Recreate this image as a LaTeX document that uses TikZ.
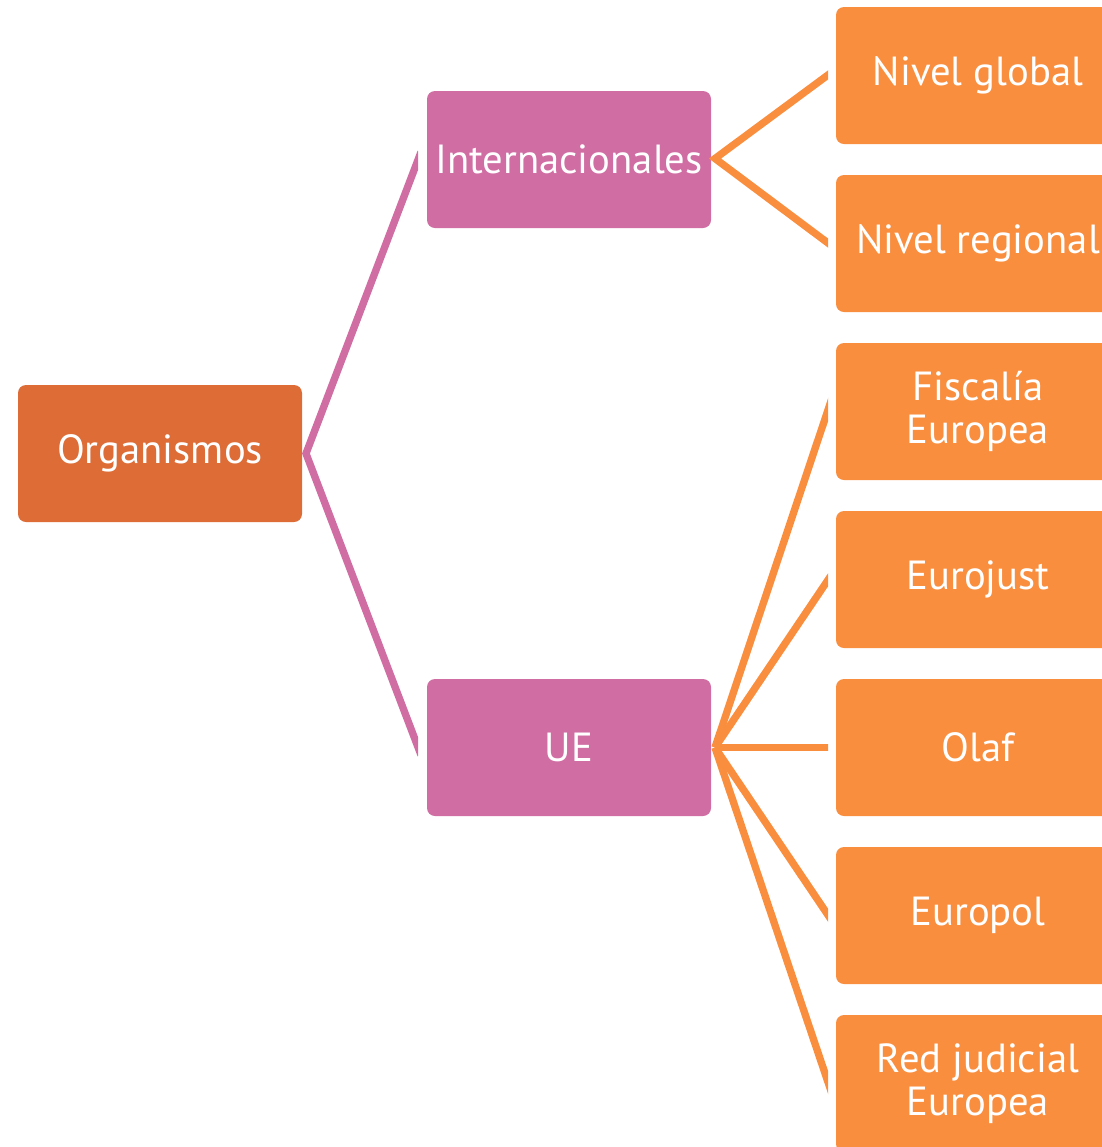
\documentclass[tikz,border=0pt]{standalone}
\usepackage{fontspec}
\setmainfont{PT Sans}
\definecolor{orgc}{HTML}{DD6C36}
\definecolor{pinkc}{HTML}{D06DA3}
\definecolor{orac}{HTML}{F98E3F}
\begin{document}
\begin{tikzpicture}[x=0.75pt,y=-0.75pt,
  box/.style={rounded corners=6pt,minimum width=213pt,minimum height=102.75pt,
    text=white,font=\fontsize{30.5}{32}\selectfont,align=center,inner sep=0pt},
  orgbox/.style={box,fill=orgc},
  pinkbox/.style={box,fill=pinkc},
  orabox/.style={box,fill=orac},
  pinkline/.style={draw=pinkc,line width=5.5pt,line join=miter},
  oraline/.style={draw=orac,line width=5.5pt,line join=miter}]
\useasboundingbox (0,0) rectangle (1102,1147);
\clip (0,0) rectangle (1102,1147);
\node[orgbox] (org) at (160,453.5) {Organismos};
\node[pinkbox] (int) at (569,159.5) {Internacionales};
\node[pinkbox] (ue) at (569,747.5) {UE};
\node[orabox] (glo) at (978,75.5) {Nivel global};
\node[orabox] (reg) at (978,243.5) {Nivel regional};
\node[orabox] (fis) at (978,411.5) {Fiscalía\\Europea};
\node[orabox] (euj) at (978,579.5) {Eurojust};
\node[orabox] (ola) at (978,747.5) {Olaf};
\node[orabox] (eup) at (978,915.5) {Europol};
\node[orabox] (red) at (978,1083.5) {Red judicial\\Europea};
\coordinate (jo) at (306,453.5);
\coordinate (ji) at (715,158.5);
\coordinate (ju) at (715,747.5);
\coordinate (pi) at (421,152);
\coordinate (pu) at (421,755);
\coordinate (eglo) at (832,72);
\coordinate (ereg) at (832,246);
\coordinate (efis) at (832,398);
\coordinate (eeuj) at (832,574);
\coordinate (eola) at (832,747.5);
\coordinate (eeup) at (832,921);
\coordinate (ered) at (832,1094);
\begin{scope}
\clip (298,0) rectangle (418,1147);
\draw[pinkline] (pi) -- (jo) -- (pu);
\end{scope}
\begin{scope}
\clip (705,0) rectangle (828,1147);
\draw[oraline] (eglo) -- (ji) -- (ereg);
\draw[oraline] (efis) -- (ju);
\draw[oraline] (eeuj) -- (ju);
\draw[oraline] (eola) -- (ju);
\draw[oraline] (eeup) -- (ju);
\draw[oraline] (ered) -- (ju);
\end{scope}
\end{tikzpicture}
\end{document}
